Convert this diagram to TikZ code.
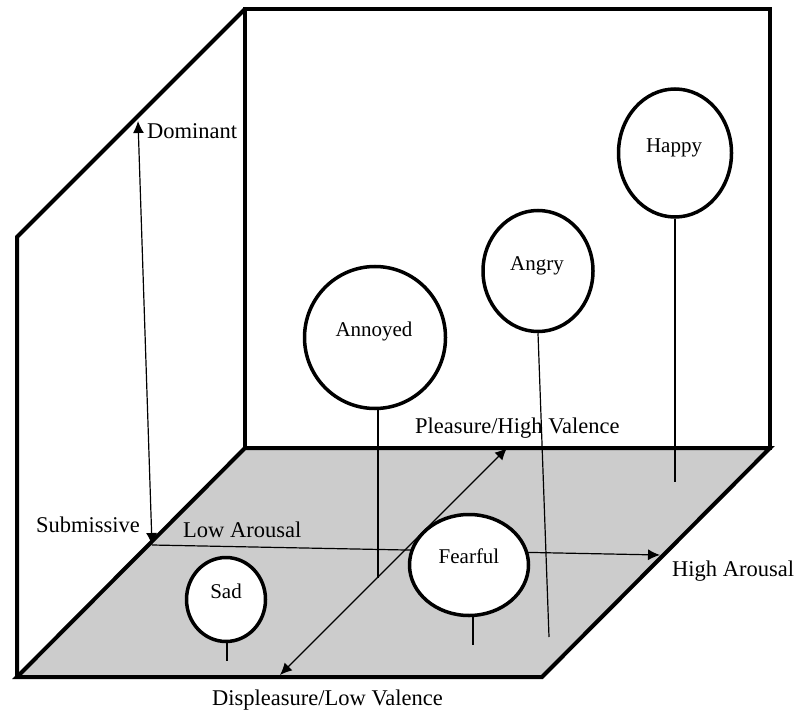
\documentclass[tikz,border=0pt]{standalone}
\usepackage{fontspec}
\setmainfont{Liberation Serif}
\usetikzlibrary{shapes.geometric,arrows.meta}
\definecolor{floorgray}{RGB}{204,204,204}
\begin{document}
\begin{tikzpicture}[x=1pt,y=-1pt,
  wall/.style={line width=4pt,line join=miter},
  axis/.style={line width=1.2pt},
  axtip/.tip={Latex[length=12pt,width=11pt]},
  balloon/.style={draw,ellipse,line width=3.5pt,fill=white,inner sep=0pt},
  stem/.style={line width=1.2pt},
  axislabel/.style={anchor=base west,inner sep=0pt,font=\fontsize{22.5}{26}\selectfont},
  word/.style={anchor=base,inner sep=0pt,font=\fontsize{21}{25}\selectfont}]

\useasboundingbox (0,0) rectangle (797,711);

% room corners
\coordinate (bwTL) at (245,9);
\coordinate (bwTR) at (770,9);
\coordinate (bwBL) at (245,448);
\coordinate (bwBR) at (770,448);
\coordinate (frL)  at (17,677);
\coordinate (frR)  at (542,677);
\coordinate (lwT)  at (17,237);

% floor
\fill[floorgray] (bwBL) -- (bwBR) -- (frR) -- (frL) -- cycle;

% walls and floor outline
\draw[wall] (bwTL) rectangle (bwBR);
\draw[wall] (bwBL) -- (bwBR) -- (frR) -- (frL) -- cycle;
\draw[wall] (frL) -- (lwT) -- (bwTL);

% axis end points
\coordinate (sub) at (152,545);
\coordinate (dom) at (138,121);
\coordinate (hiA) at (660,555);
\coordinate (hiV) at (507,448);
\coordinate (loV) at (280,675);

% axes
\draw[axis,axtip-axtip] (dom) -- (sub);
\draw[axis,-axtip] (sub) -- (hiA);
\draw[axis,axtip-axtip] (loV) -- (hiV);

% stem ends on the floor
\coordinate (happyFoot)   at (675,482);
\coordinate (angryFoot)   at (549,637);
\coordinate (annoyedFoot) at (378,578);
\coordinate (fearfulFoot) at (473,645);
\coordinate (sadFoot)     at (227,661);

% balloons
\node[balloon,minimum width=113pt,minimum height=128pt] (happy)   at (675,153) {};
\node[balloon,minimum width=110pt,minimum height=121pt] (angry)   at (538,271) {};
\node[balloon,minimum width=141pt,minimum height=142pt] (annoyed) at (375,337.5) {};

% stems
\draw[stem] (happy.south) -- (happyFoot);
\draw[stem] (angry.south) -- (angryFoot);
\draw[stem] (annoyed.south -| annoyedFoot) -- (annoyedFoot);

\node[balloon,minimum width=119pt,minimum height=101pt] (fearful) at (469,565) {};
\node[balloon,minimum width=79pt,minimum height=84pt]   (sad)     at (226,599.5) {};
\draw[stem] (fearful.south -| fearfulFoot) -- (fearfulFoot);
\draw[stem] (sad.south -| sadFoot) -- (sadFoot);

% balloon labels
\node[word] (happyT)   at (674,153) {Happy};
\node[word] (angryT)   at (537,270) {Angry};
\node[word] (annoyedT) at (374,336) {Annoyed};
\node[word] (fearfulT) at (469,563) {Fearful};
\node[word] (sadT)     at (226,598) {Sad};

% axis labels
\node[axislabel] (domT)  at (147,139) {Dominant};
\node[axislabel] (subT)  at (36,532)  {Submissive};
\node[axislabel] (loAT)  at (183,537) {Low Arousal};
\node[axislabel] (hiVT)  at (415,433) {Pleasure/High Valence};
\node[axislabel] (hiAT)  at (672,576) {High Arousal};
\node[axislabel] (loVT)  at (212,705) {Displeasure/Low Valence};
\end{tikzpicture}
\end{document}
